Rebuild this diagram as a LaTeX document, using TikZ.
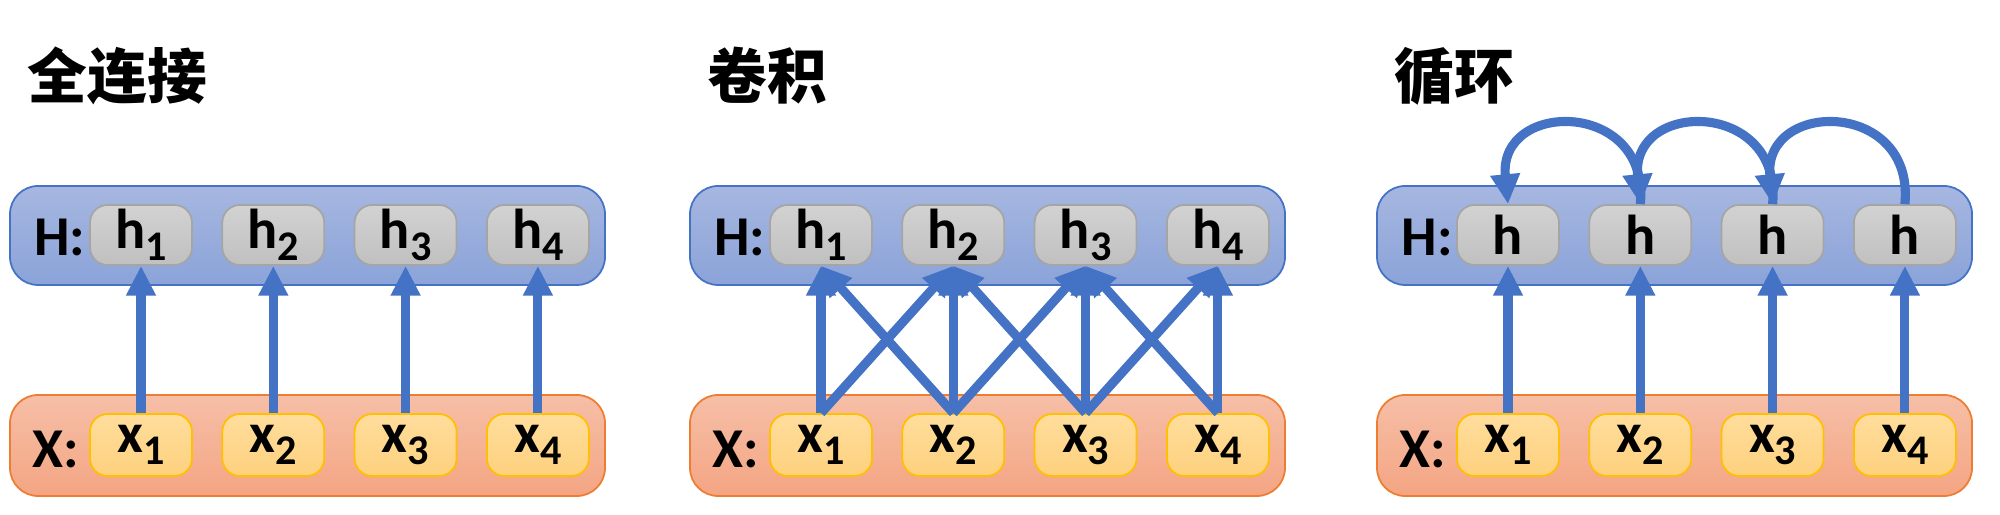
\documentclass[tikz,border=0pt]{standalone}
\usepackage{fontspec}
\setmainfont{Carlito}
\newfontfamily\cjk{Noto Sans CJK SC}
\usepackage{tikz}
\usetikzlibrary{arrows.meta}

\definecolor{arrowblue}{HTML}{4472C4}
\definecolor{hlayertop}{HTML}{A6B7E0}
\definecolor{hlayerbot}{HTML}{8BA3D9}
\definecolor{xlayertop}{HTML}{F6BFA7}
\definecolor{xlayerbot}{HTML}{F4A583}
\definecolor{xlayerline}{HTML}{ED7D31}
\definecolor{hcelltop}{HTML}{D2D2D2}
\definecolor{hcellbot}{HTML}{C0C0C0}
\definecolor{hcellline}{HTML}{A5A5A5}
\definecolor{xcelltop}{HTML}{FFDD9C}
\definecolor{xcellbot}{HTML}{FDD17E}
\definecolor{xcellline}{HTML}{FFC000}

\newcommand{\idx}[1]{\raisebox{-0.45ex}{\fontsize{12}{12}\selectfont #1}}

\begin{document}
\begin{tikzpicture}[
        layerH/.style={rectangle, rounded corners=8pt, draw=arrowblue, line width=0.5pt, top color=hlayertop, bottom color=hlayerbot, minimum width=5.95cm, minimum height=0.99cm},
        layerX/.style={rectangle, rounded corners=8pt, draw=xlayerline, line width=0.5pt, top color=xlayertop, bottom color=xlayerbot, minimum width=5.95cm, minimum height=1.01cm},
        hcell/.style={rectangle, rounded corners=5pt, draw=hcellline, line width=0.5pt, top color=hcelltop, bottom color=hcellbot, minimum width=1.02cm, minimum height=0.60cm, inner sep=0pt, font=\bfseries\fontsize{16}{18}\selectfont},
        xcell/.style={rectangle, rounded corners=5pt, draw=xcellline, line width=0.5pt, top color=xcelltop, bottom color=xcellbot, minimum width=1.02cm, minimum height=0.62cm, inner sep=0pt, font=\bfseries\fontsize{16}{18}\selectfont},
        tag/.style={inner sep=0pt, font=\bfseries\fontsize{16}{18}\selectfont},
        title/.style={anchor=west, inner sep=0pt, font=\cjk\bfseries\fontsize{17}{19}\selectfont},
        arrow/.style={-{Triangle[width=8pt,length=8.5pt]}, line width=2.6pt, arrowblue}
    ]
    \useasboundingbox (0,0) rectangle (20,-5.15);
    % three panels: layers, cells, labels
    \foreach \p/\dx/\name/\withsub in {fc/0/全连接/1, cv/6.8/卷积/1, rn/13.67/循环/0} {
        \node[title] (\p title) at (\dx+0.27,-0.76) {\name};
        \node[layerH] (\p H) at (\dx+3.075,-2.355) {};
        \node[layerX] (\p X) at (\dx+3.075,-4.455) {};
        \node[tag] (\p Htag) at (\dx+0.6,-2.37) {H:};
        \node[tag] (\p Xtag) at (\dx+0.56,-4.49) {X:};
        \foreach \i in {1,...,4} {
            \node[hcell] (\p h\i) at ({\dx+1.41+(\i-1)*1.323},-2.35) {\ifnum\withsub=1 h\idx{\i}\else h\fi};
            \node[xcell] (\p x\i) at ({\dx+1.41+(\i-1)*1.323},-4.45) {x\idx{\i}};
        }
    }
    % fully connected
    \foreach \i in {1,...,4}
        \draw[arrow] (fcx\i.north) -- (fch\i.south);
    % convolution
    \foreach \i in {1,...,4}
        \draw[arrow] (cvx\i.north) -- (cvh\i.south);
    \foreach \i/\j in {1/2, 2/1, 2/3, 3/2, 3/4, 4/3}
        \draw[arrow] (cvx\i.north) -- (cvh\j.south);
    % recurrent
    \foreach \i/\j in {2/1, 3/2, 4/3}
        \draw[arrow] (rnh\i.north) .. controls +(0.1,1.05) and +(-0.1,1.05) .. (rnh\j.north);
    \foreach \i in {1,...,4}
        \draw[arrow] (rnx\i.north) -- (rnh\i.south);
\end{tikzpicture}
\end{document}
